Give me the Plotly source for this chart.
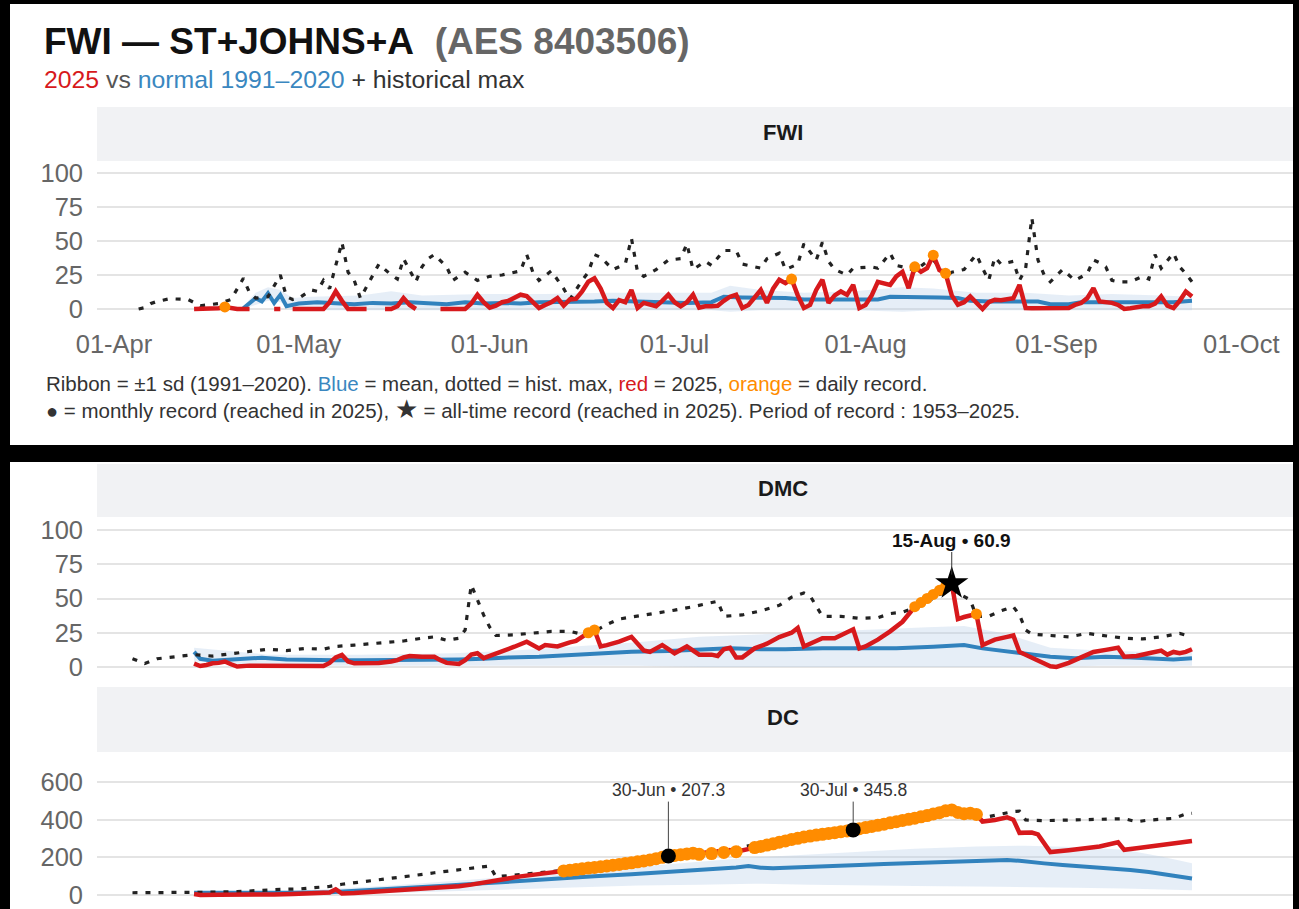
import pandas as pd
import plotly.graph_objects as go

W, H = 1299, 909
START = pd.Timestamp("2025-04-01")

# ---------------- data (day offsets from 01-Apr-2025) ----------------
TICK_DAYS = [0, 30, 61, 91, 122, 153, 183]
TICK_LABELS = ["01-Apr", "01-May", "01-Jun", "01-Jul", "01-Aug", "01-Sep", "01-Oct"]

# FWI
FWI_MAX_DAY = [4, 5, 6, 7, 9, 12, 14, 17, 19, 21, 22, 23, 25, 27, 28, 29, 30, 32, 33, 34, 35, 36, 37, 38, 39, 40,
               42, 43, 45, 46, 47, 48, 49, 50, 51, 52, 54, 55, 57, 59, 61, 63, 66, 67, 68, 69, 71, 73, 74, 76, 77,
               78, 79, 81, 83, 84, 85, 86, 88, 90, 92, 93, 94, 96, 97, 99, 101, 102, 105, 106, 108, 109, 111, 112,
               114, 115, 116, 117, 119, 120, 123, 124, 126, 127, 129, 130, 132, 133, 134, 135, 136, 138, 140, 141,
               142, 143, 144, 146, 147, 148, 149, 150, 151, 152, 154, 156, 158, 159, 160, 161, 162, 163, 165, 167,
               168, 169, 170, 172, 173, 174, 175]
FWI_MAX_VAL = [0, 1, 4, 5.6, 7.5, 7, 2.4, 4, 7, 22.6, 12, 8, 9, 25, 9, 7, 8, 14, 13, 21, 15, 32, 49, 27, 21, 8,
               24, 33, 25, 22, 37, 28, 20, 31, 37, 40, 31, 21, 27, 21, 24, 25, 28, 40, 27, 21, 28, 15, 7, 21, 27,
               40, 38, 29, 33, 52, 27, 24, 29, 36, 37, 48, 29, 35, 32, 43, 43, 33, 30, 37, 41, 29, 33, 48,
               36, 49, 35, 29, 25, 30, 31, 30, 41, 32, 30, 28, 35, 36, 31, 24, 27, 29, 40, 30,
               21, 38, 33, 35, 21, 30, 67, 36, 25, 20, 29, 21, 26, 36, 34, 31, 21, 20, 20, 24,
               22, 40, 30, 41, 31, 26, 20]
FWI_MEAN_DAY = [21, 23, 24, 25, 26, 27, 28, 30, 33, 36, 39, 42, 45, 48, 51, 54, 57, 60, 63, 66, 69, 72, 75, 78, 81,
                84, 87, 90, 93, 97, 99, 102, 106, 109, 112, 116, 120, 124, 126, 130, 134, 137, 139, 142, 146, 150,
                152, 155, 157, 162, 167, 172, 175]
FWI_MEAN_VAL = [0.5, 8, 5.6, 11.6, 4.4, 10.4, 2, 4, 5, 4, 3.5, 4.5, 4, 5, 4, 3.5, 5, 4, 4.5, 4, 5, 5, 5.5, 5.5, 6,
                5.5, 5.5, 5, 4.5, 5, 9, 8.5, 8.5, 8, 7, 7, 6.8, 7, 9, 9, 8.5, 8, 6, 5.5, 5.5, 5.5,
                3.5, 3.5, 5, 5, 4.5, 5, 6]
FWI_RIB_DAY = [21, 23, 25, 27, 29, 32, 40, 45, 50, 60, 70, 80, 90, 97, 100, 105, 112, 120, 128, 133, 140, 148, 155,
               162, 170, 175]
FWI_RIB_HI = [2, 12, 16, 14, 8, 9, 10, 13, 10, 11, 11, 12, 12, 12, 17, 14, 12, 13, 16, 15, 12, 12, 10, 11, 10, 9]
FWI_RIB_LO = [0, 3, 6, 5, 0, -1, -1, -1, -1, -1, -1, -1, -1, -1, -2, -1, -1, -1, -2, -1, -1, -1, -1, -1, -1, -1]
FWI_2025_DAY = [13, 14, 15, 16, 17, 18, 19, 20, 21, 22, 23, 26, 27, 28, 29, 30, 31, 32, 33, 34, 35, 36, 37, 38, 39,
                40, 41, 42, 44, 45, 46, 47, 48, 49, 50, 53, 54, 55, 56, 57, 58, 59, 60, 61, 62, 63, 64, 65, 66, 67,
                68, 69, 70, 71, 72, 73, 74, 75, 76, 77, 78, 79, 80, 81, 82, 83, 84, 85, 86, 87, 88, 89, 90, 91, 92,
                93, 94, 95, 96, 97, 98, 99, 100, 101, 102, 103, 104, 105, 106, 107, 108, 109, 110, 111, 112, 113,
                114, 115, 116, 117, 118, 119, 120, 121, 122, 123, 124, 125, 126, 127, 128, 129, 130, 131, 132, 133,
                134, 135, 136, 137, 138, 139, 140, 141, 142, 143, 144, 145, 146, 147, 148, 149, 151, 153, 155, 156,
                157, 158, 159, 160, 161, 162, 163, 164, 165, 166, 167, 168, 169, 170, 171, 172, 173, 174, 175]
FWI_2025_VAL = [0, 0, 0, 0, 0.5, 1.5, 0.5, 0, 0, 0, None, 0, 0, None, 0, 0, 0, 0, 0, 0, 5, 13, 6, 0, 0,
                0, 0, None, 0, 0, 2, 8, 3, 0, None, 0, 0, 0, 0, 0, 4, 10.5, 5, 1, 2.5, 5, 6, 8, 10.5, 9.5,
                5, 0.7, 3, 5, 8, 2.5, 7, 7.5, 13, 20, 22.5, 15, 4.5, 0.7, 6.5, 5, 14, 0.7, 4.5, 3, 2, 6, 10.5, 5, 2,
                5, 10.5, 1, 2, 2, 2.4, 6, 9, 10.5, 0.7, 3, 8, 14, 4.5, 15, 21.5, 19, 22, 10, 0.7, 3,
                14, 21.5, 4.5, 10, 12.9, 10.4, 17.7, 0.7, 3, 10, 20, 19, 17.7, 24, 27.4, 15.3, 31, 27.4, 30, 39.6,
                28.6, 26.2, 10, 3.2, 5, 9.2, 5, 0, 5, 6.8, 6.5, 7.5, 8, 17.7, 0.7, 0.5, 0.5, 0.5, 0.7, 3,
                4.4, 8, 15.3, 5.6, 5, 4.5, 3, 0, 0.5, 1.5, 2, 2, 4, 9.2, 2.4, 0.7, 6, 12.9, 9.2]
FWI_DAILY_REC_DAY = [18, 110, 130, 133, 135]

# DMC
DMC_MAX_DAY = [3, 5, 7, 10, 13, 16, 19, 22, 25, 28, 31, 34, 36, 39, 42, 45, 47, 50, 52, 54, 56, 57, 58, 59, 60, 61,
               62, 65, 68, 71, 74, 76, 78, 80, 82, 85, 88, 91, 94, 97, 98, 99, 102, 105, 108, 110, 112, 113, 114,
               115, 118, 121, 124, 126, 128, 131, 133, 134, 136, 137, 139, 140, 142, 144, 146, 147, 148, 149, 152,
               155, 158, 161, 164, 167, 170, 173, 175]
DMC_MAX_VAL = [6, 2.5, 6, 7.5, 9, 8, 9.5, 11, 13, 12, 13.5, 13, 15, 16, 17, 18.5, 19, 21, 22, 19.5, 21, 27, 60, 49,
               38, 29, 23, 23.5, 25, 26, 26, 24, 26, 31, 35, 37, 39, 41.5, 44, 47, 48, 37, 38, 41, 45, 51, 54, 52,
               45, 37, 37, 35.5, 36, 39, 40, 45, 50, 53, 55, 54, 49, 37, 37, 41, 44, 38, 27, 24, 23, 22, 24.5, 23,
               21, 20.5, 22, 24.5, 22]
DMC_MEAN_DAY = [13, 14, 16, 18, 20, 24, 28, 32, 36, 40, 44, 48, 52, 56, 60, 64, 69, 74, 79, 84, 90, 96, 100, 105,
                109, 115, 121, 127, 133, 136, 138, 141, 145, 149, 152, 156, 161, 165, 168, 172, 175]
DMC_MEAN_VAL = [11, 6, 4.5, 5, 6, 6.8, 5.5, 5, 5, 5, 5, 5, 5.5, 5.5, 6, 7, 7.5, 8.8, 10, 11.2, 11.7, 12.4, 13.6, 13,
                12.9, 13.6, 13.6, 13.6, 14.8, 15.5, 16, 13.6, 11.2, 9.5, 7.5, 6.3, 7.5, 7, 6.3, 5.5, 6.3]
DMC_RIB_DAY = [13, 25, 40, 55, 65, 75, 85, 95, 105, 115, 125, 132, 138, 145, 152, 160, 168, 175]
DMC_RIB_HI = [14, 9, 9, 10, 12, 15, 18, 22, 24, 26, 28, 29, 30, 24, 14, 12, 11, 11]
DMC_RIB_LO = [4, 1, 1, 1, 1, 1, 1, 0, 0, 0, 0, 0, 0, 0, 0, 1, 1, 1]
DMC_2025_DAY = [13, 14, 15, 16, 17, 18, 19, 20, 22, 24, 26, 28, 30, 32, 34, 35, 36, 37, 38, 39, 41, 43, 45, 46, 47,
                48, 50, 52, 53, 54, 56, 57, 58, 59, 60, 61, 63, 65, 67, 68, 69, 70, 72, 74, 75, 76, 77, 78, 79, 80,
                82, 84, 85, 86, 87, 89, 90, 91, 93, 94, 95, 97, 98, 99, 100, 101, 102, 104, 106, 108, 110, 111,
                112, 113, 115, 117, 118, 120, 121, 122, 124, 126, 128, 129, 130, 131, 132, 133, 134, 135, 136, 137,
                138, 139, 140, 141, 143, 145, 146, 147, 148, 149, 150, 151, 152, 153, 155, 157, 159, 161, 162, 163,
                164, 166, 168, 170, 171, 172, 173, 174, 175]
DMC_2025_VAL = [2.5, 0.7, 1.5, 2.7, 3, 4, 2, 0.3, 1, 1, 0.7, 1.5, 1, 1.5, 0.7, 3, 7, 8.8, 4, 2.7, 2.5, 3, 4, 5, 7,
                8, 7.5, 7.5, 5, 3, 2.2, 5, 9, 10, 6.5, 8, 11, 14.8, 18.5, 16, 13.6, 16, 15, 18, 19, 22, 25, 27, 15,
                16, 18.5, 22, 17, 12, 11, 16, 13, 10, 15, 12, 9, 9, 8, 13, 14, 7, 7, 13.6, 17, 21.9, 25, 28.5,
                15, 17, 21, 21, 23, 27.5, 13.6, 15, 20, 26, 33, 38, 44, 47, 50, 53, 56, 59, 60.9, 35,
                36.5, 37.5, 38.7, 16, 20, 22, 23, 11, 9, 7, 5, 3, 0.5, 0, 3, 7, 11, 12.5, 13.6, 14,
                7.5, 8, 10, 12, 9, 11, 10, 11, 13]
DMC_DAILY_REC_DAY = [77, 78, 130, 131, 132, 133, 134, 135, 140]
DMC_ALLTIME_DAY = 136
DMC_ALLTIME_LABEL = "15-Aug • 60.9"

# DC
DC_MAX_DAY = [3, 6, 9, 12, 16, 20, 24, 27, 30, 33, 35, 37, 40, 43, 46, 49, 52, 55, 58, 61, 62, 65, 68, 71, 73, 80,
              90, 100, 110, 120, 130, 136, 140, 141, 142, 144, 146, 147, 148, 151, 154, 157, 160, 162, 164, 166,
              168, 170, 172, 174, 175]
DC_MAX_VAL = [12, 12, 12, 13, 15, 18, 26, 30, 32, 42, 46, 57, 68, 80, 92, 105, 118, 130, 142, 154, 97, 106, 115,
              124, 130, 152, 207, 245, 297, 346, 410, 452, 428, 420, 416, 430, 443, 445, 398, 395, 398, 400, 403,
              407, 405, 389, 398, 402, 407, 430, 434]
DC_MEAN_DAY = [13, 20, 28, 35, 41, 47, 53, 60, 66, 72, 78, 84, 88, 92, 97, 101, 103, 105, 107, 110, 113, 117, 121,
               125, 128, 131, 134, 137, 140, 143, 145, 147, 149, 151, 154, 158, 161, 165, 168, 171, 173, 175]
DC_MEAN_VAL = [12, 10, 12, 15, 25, 35, 48, 62, 76, 88, 99, 110, 118, 124, 133, 146, 154, 145, 142, 145, 147, 152,
               159, 165, 168, 173, 177, 179, 182, 184, 186, 182, 177, 168, 159, 150, 142, 133, 122, 106, 96, 88]
DC_RIB_DAY = [13, 30, 45, 60, 72, 85, 95, 104, 113, 122, 130, 140, 148, 156, 164, 170, 175]
DC_RIB_HI = [16, 22, 50, 85, 115, 150, 175, 200, 215, 232, 245, 258, 262, 255, 240, 205, 168]
DC_RIB_LO = [6, 5, 10, 25, 40, 50, 55, 60, 55, 50, 48, 45, 40, 38, 35, 30, 25]
DC_2025_DAY = [13, 14, 17, 20, 23, 26, 29, 32, 34, 35, 36, 37, 39, 42, 45, 48, 51, 54, 56, 58, 60, 62, 64, 66, 68,
               70, 72] + list(range(73, 141)) + [141, 143, 145, 146, 147, 149, 150, 152, 155, 158, 160, 163, 164,
                                                 166, 168, 170, 172, 174, 175]
DC_2025_VAL = [5, 0, 2, 1, 0, 3, 5, 8, 11, 13, 30, 8, 10, 16, 22, 27, 36, 42, 46, 55, 64, 76, 88, 99, 107,
               116, 125,
               128, 131, 135, 139, 143, 146, 150, 154, 158, 162, 167, 171, 176, 181, 186, 193, 200, 207.3,
               210, 214, 218, 222, 216, 226, 220, 232, 226, 238, 230, 236, 240, 252, 258, 265, 272, 280, 287,
               295, 301, 308, 313, 318, 322, 327, 331, 336, 340, 345.8, 352, 358, 364, 370, 376, 383, 389, 396,
               402, 408, 415, 422, 430, 437, 447, 452, 438, 432, 434, 428,
               390, 398, 412, 400, 330, 332, 322, 228, 238, 250, 258, 280, 240, 248, 256, 264, 271, 279, 287]
DC_DAILY_REC_DAY = list(range(73, 96)) + [97, 99, 101] + list(range(104, 141))
DC_MONTHLY_REC_DAY = [90, 120]
DC_MONTHLY_REC_LABEL = ["30-Jun • 207.3", "30-Jul • 345.8"]

# ---------------- styling ----------------
RED = "#d7191c"
BLUE = "#3182bd"
ORANGE = "#ff8c00"
DOT = "#222222"
RIBBON = "rgba(180,204,230,0.33)"
GRID = "#e4e4e4"
STRIP = "#f1f2f4"
FONT = "Liberation Sans, Arial, sans-serif"


def dates(days):
    return [START + pd.Timedelta(days=d) for d in days]


def px(x):
    return x / W


def py(y):
    return 1 - y / H


fig = go.Figure()


def add_panel(xa, ya, rib_d, rib_hi, rib_lo, mean_d, mean_v, max_d, max_v, cur_d, cur_v, rec_days, rec_size):
    fig.add_trace(go.Scatter(x=dates(rib_d), y=rib_lo, mode="lines", line=dict(width=0, color=RIBBON),
                             xaxis=xa, yaxis=ya, showlegend=False, hoverinfo="skip"))
    fig.add_trace(go.Scatter(x=dates(rib_d), y=rib_hi, mode="lines", line=dict(width=0, color=RIBBON),
                             fill="tonexty", fillcolor=RIBBON, xaxis=xa, yaxis=ya, showlegend=False,
                             hoverinfo="skip"))
    fig.add_trace(go.Scatter(x=dates(mean_d), y=mean_v, mode="lines", line=dict(width=4, color=BLUE),
                             xaxis=xa, yaxis=ya, showlegend=False))
    fig.add_trace(go.Scatter(x=dates(max_d), y=max_v, mode="lines",
                             line=dict(width=3.2, color=DOT, dash="5px,8px"),
                             xaxis=xa, yaxis=ya, showlegend=False))
    fig.add_trace(go.Scatter(x=dates(cur_d), y=cur_v, mode="lines", line=dict(width=4.5, color=RED),
                             connectgaps=False, xaxis=xa, yaxis=ya, showlegend=False))
    lookup = dict(zip(cur_d, cur_v))
    fig.add_trace(go.Scatter(x=dates(rec_days), y=[lookup[d] for d in rec_days], mode="markers",
                             marker=dict(size=rec_size, color=ORANGE), xaxis=xa, yaxis=ya, showlegend=False))
    return lookup


add_panel("x", "y", FWI_RIB_DAY, FWI_RIB_HI, FWI_RIB_LO, FWI_MEAN_DAY, FWI_MEAN_VAL, FWI_MAX_DAY, FWI_MAX_VAL,
          FWI_2025_DAY, FWI_2025_VAL, FWI_DAILY_REC_DAY, 11)
dmc_lookup = add_panel("x2", "y2", DMC_RIB_DAY, DMC_RIB_HI, DMC_RIB_LO, DMC_MEAN_DAY, DMC_MEAN_VAL, DMC_MAX_DAY,
                       DMC_MAX_VAL, DMC_2025_DAY, DMC_2025_VAL, DMC_DAILY_REC_DAY, 11)
dc_lookup = add_panel("x3", "y3", DC_RIB_DAY, DC_RIB_HI, DC_RIB_LO, DC_MEAN_DAY, DC_MEAN_VAL, DC_MAX_DAY,
                      DC_MAX_VAL, DC_2025_DAY, DC_2025_VAL, DC_DAILY_REC_DAY, 13)

# all-time record star (DMC)
fig.add_trace(go.Scatter(x=dates([DMC_ALLTIME_DAY]), y=[dmc_lookup[DMC_ALLTIME_DAY]], mode="markers",
                         marker=dict(symbol="star", size=25, color="black"), xaxis="x2", yaxis="y2",
                         showlegend=False))
# monthly records (DC)
fig.add_trace(go.Scatter(x=dates(DC_MONTHLY_REC_DAY), y=[dc_lookup[d] for d in DC_MONTHLY_REC_DAY],
                         mode="markers", marker=dict(symbol="circle", size=15, color="black"),
                         xaxis="x3", yaxis="y3", showlegend=False))

# ---------------- layout ----------------
x_range = [(START + pd.Timedelta(days=-2.76)).strftime("%Y-%m-%d %H:%M"),
           (START + pd.Timedelta(days=191.4)).strftime("%Y-%m-%d %H:%M")]
x_dom = [px(97), px(1293)]

tickfont = dict(family=FONT, size=25.5, color="#666666")
common_x = dict(range=x_range, domain=x_dom, showgrid=False, zeroline=False, showline=False, ticks="",
                automargin=False)
fig.update_layout(
    xaxis=dict(**common_x, anchor="y", tickvals=dates(TICK_DAYS), ticktext=TICK_LABELS, tickfont=tickfont),
    xaxis2=dict(**common_x, anchor="y2", showticklabels=False),
    xaxis3=dict(**common_x, anchor="y3", showticklabels=False),
)

common_y = dict(showgrid=True, gridcolor=GRID, gridwidth=2, zeroline=False, showline=False, ticks="",
                tickfont=tickfont, ticklabelstandoff=13, automargin=False)
fig.update_layout(
    yaxis=dict(**common_y, anchor="x", domain=[py(326), py(161)], range=[-12.5, 108.8],
               tickvals=[0, 25, 50, 75, 100]),
    yaxis2=dict(**common_y, anchor="x2", domain=[py(682), py(517)], range=[-10.95, 109.5],
                tickvals=[0, 25, 50, 75, 100]),
    yaxis3=dict(**common_y, anchor="x3", domain=[py(909), py(752)], range=[-74.3, 759.3],
                tickvals=[0, 200, 400, 600]),
)

shapes = [
    dict(type="rect", xref="paper", yref="paper", x0=px(10), x1=px(1293), y0=py(445), y1=py(4),
         fillcolor="white", line=dict(width=0), layer="below"),
    dict(type="rect", xref="paper", yref="paper", x0=px(10), x1=px(1293), y0=py(909), y1=py(462),
         fillcolor="white", line=dict(width=0), layer="below"),
    dict(type="rect", xref="paper", yref="paper", x0=px(97), x1=px(1293), y0=py(161), y1=py(107),
         fillcolor=STRIP, line=dict(width=0), layer="below"),
    dict(type="rect", xref="paper", yref="paper", x0=px(97), x1=px(1293), y0=py(517), y1=py(464),
         fillcolor=STRIP, line=dict(width=0), layer="below"),
    dict(type="rect", xref="paper", yref="paper", x0=px(97), x1=px(1293), y0=py(752), y1=py(687),
         fillcolor=STRIP, line=dict(width=0), layer="below"),
]

ann = []


def text(x, y, s, size, color="#222", xanchor="left"):
    ann.append(dict(x=px(x), y=py(y), xref="paper", yref="paper", text=s, showarrow=False,
                    xanchor=xanchor, yanchor="middle", font=dict(family=FONT, size=size, color=color)))


text(42, 41, "<b>FWI — ST+JOHNS+A</b>\u00a0 <b><span style='color:#666666'>(AES 8403506)</span></b>", 37, "#111")
text(42, 80, "<span style='color:%s'>2025</span> vs <span style='color:#3a87c0'>normal 1991–2020</span>"
             " <span style='color:#333'>+ historical max</span>" % RED, 24.8, "#555")
text(783, 133, "<b>FWI</b>", 22, "#1a1a1a", "center")
text(783, 489, "<b>DMC</b>", 22, "#1a1a1a", "center")
text(783, 717, "<b>DC</b>", 22, "#1a1a1a", "center")
text(44, 383, "Ribbon = ±1 sd (1991–2020). <span style='color:#3a87c0'>Blue</span> = mean, dotted = hist. max, "
              "<span style='color:%s'>red</span> = 2025, <span style='color:%s'>orange</span> = daily record."
     % (RED, ORANGE), 20.5, "#333")
text(44, 409, "<span style='font-size:20px'>●</span> = monthly record (reached in 2025), "
              "<span style='font-size:26px'>★</span> = all-time record (reached in 2025). "
              "Period of record : 1953–2025.", 20.5, "#333")

# record call-outs (label rows fixed in data units of each panel)
DMC_LABEL_Y = 92.7
DC_LABEL_Y = 557
ann.append(dict(x=dates([DMC_ALLTIME_DAY])[0], y=dmc_lookup[DMC_ALLTIME_DAY], xref="x2", yref="y2",
                text="<b>%s</b>" % DMC_ALLTIME_LABEL, showarrow=True, arrowhead=0, arrowwidth=1,
                arrowcolor="#333", ax=0, ay=DMC_LABEL_Y, ayref="y2", standoff=9,
                font=dict(family=FONT, size=19, color="#111")))
for d, lab in zip(DC_MONTHLY_REC_DAY, DC_MONTHLY_REC_LABEL):
    ann.append(dict(x=dates([d])[0], y=dc_lookup[d], xref="x3", yref="y3", text=lab, showarrow=True,
                    arrowhead=0, arrowwidth=1, arrowcolor="#444", ax=0, ay=DC_LABEL_Y, ayref="y3", standoff=7,
                    font=dict(family=FONT, size=17.5, color="#333")))

fig.update_layout(
    width=W, height=H, margin=dict(l=0, r=0, t=0, b=0, pad=0, autoexpand=False),
    paper_bgcolor="black", plot_bgcolor="white",
    shapes=shapes, annotations=ann, showlegend=False,
    font=dict(family=FONT),
)

fig.write_html("out.html", config={"displayModeBar": False},
               post_script="document.body.style.margin='0';document.body.style.overflow='hidden';")
